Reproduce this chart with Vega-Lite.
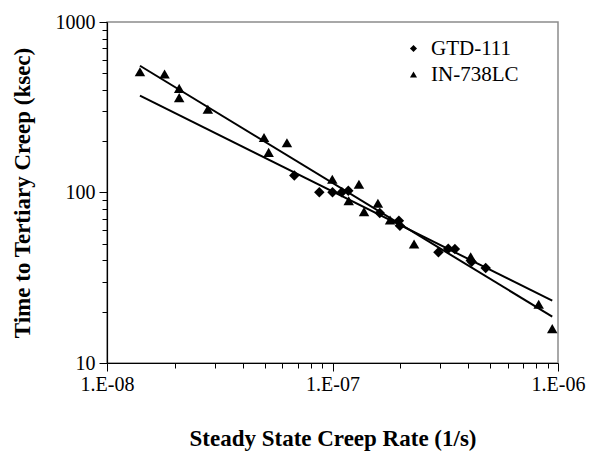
{
  "$schema": "https://vega.github.io/schema/vega-lite/v6.json",
  "autosize": {"type": "none"},
  "padding": {"left": 107, "top": 22, "right": 34, "bottom": 92},
  "width": 451,
  "height": 341,
  "background": "white",
  "config": {
    "view": {"stroke": "#8c8c8c", "strokeWidth": 1.5},
    "font": "Liberation Serif",
    "axis": {
      "grid": false,
      "domainColor": "black",
      "domainWidth": 1.2,
      "tickColor": "black",
      "tickWidth": 1,
      "labelFont": "Liberation Serif",
      "labelFontSize": 20,
      "labelColor": "black",
      "titleFont": "Liberation Serif",
      "titleFontSize": 23,
      "titleFontWeight": "bold",
      "titleColor": "black"
    }
  },
  "datasets": {
    "pts": [
      {"series": "GTD-111", "rate": 6.77e-8, "time": 126},
      {"series": "GTD-111", "rate": 8.74e-8, "time": 100.3},
      {"series": "GTD-111", "rate": 1.0e-7, "time": 100.3},
      {"series": "GTD-111", "rate": 1.10e-7, "time": 100.3},
      {"series": "GTD-111", "rate": 1.175e-7, "time": 102.5},
      {"series": "GTD-111", "rate": 1.62e-7, "time": 75.8},
      {"series": "GTD-111", "rate": 1.97e-7, "time": 68.3},
      {"series": "GTD-111", "rate": 1.99e-7, "time": 63.9},
      {"series": "GTD-111", "rate": 2.95e-7, "time": 44.6},
      {"series": "GTD-111", "rate": 3.26e-7, "time": 46.8},
      {"series": "GTD-111", "rate": 3.49e-7, "time": 46.6},
      {"series": "GTD-111", "rate": 4.14e-7, "time": 39.3},
      {"series": "GTD-111", "rate": 4.78e-7, "time": 36.1},
      {"series": "IN-738LC", "rate": 1.40e-8, "time": 511},
      {"series": "IN-738LC", "rate": 1.80e-8, "time": 495},
      {"series": "IN-738LC", "rate": 2.09e-8, "time": 408},
      {"series": "IN-738LC", "rate": 2.09e-8, "time": 360},
      {"series": "IN-738LC", "rate": 2.80e-8, "time": 308},
      {"series": "IN-738LC", "rate": 4.97e-8, "time": 210},
      {"series": "IN-738LC", "rate": 5.21e-8, "time": 172},
      {"series": "IN-738LC", "rate": 6.28e-8, "time": 196},
      {"series": "IN-738LC", "rate": 9.98e-8, "time": 119.5},
      {"series": "IN-738LC", "rate": 1.31e-7, "time": 111.7},
      {"series": "IN-738LC", "rate": 1.18e-7, "time": 89.5},
      {"series": "IN-738LC", "rate": 1.59e-7, "time": 86.4},
      {"series": "IN-738LC", "rate": 1.38e-7, "time": 77.2},
      {"series": "IN-738LC", "rate": 1.80e-7, "time": 69.0},
      {"series": "IN-738LC", "rate": 2.30e-7, "time": 49.9},
      {"series": "IN-738LC", "rate": 4.10e-7, "time": 42.0},
      {"series": "IN-738LC", "rate": 8.21e-7, "time": 22.1},
      {"series": "IN-738LC", "rate": 9.43e-7, "time": 15.9}
    ],
    "fits": [
      {"series": "GTD-111", "rate": 1.40e-8, "time": 369.7},
      {"series": "GTD-111", "rate": 9.43e-7, "time": 23.2},
      {"series": "IN-738LC", "rate": 1.40e-8, "time": 554},
      {"series": "IN-738LC", "rate": 9.43e-7, "time": 18.7}
    ]
  },
  "encoding": {
    "x": {
      "field": "rate",
      "type": "quantitative",
      "scale": {"type": "log", "domain": [1e-8, 1e-6], "nice": false},
      "axis": {
        "title": "Steady State Creep Rate (1/s)",
        "titlePadding": 33,
        "values": [1e-8, 2e-8, 3e-8, 4e-8, 5e-8, 6e-8, 7e-8, 8e-8, 9e-8, 1e-7, 2e-7, 3e-7, 4e-7, 5e-7, 6e-7, 7e-7, 8e-7, 9e-7, 1e-6],
        "labelExpr": "abs(log(datum.value)/LN10 - round(log(datum.value)/LN10)) < 0.001 ? '1.E-0' + round(-log(datum.value)/LN10) : ''",
        "tickSize": {"condition": {"test": "abs(log(datum.value)/LN10 - round(log(datum.value)/LN10)) < 0.001", "value": 8}, "value": 5},
        "labelPadding": 3,
        "labelFlush": false,
        "labelOverlap": false
      }
    },
    "y": {
      "field": "time",
      "type": "quantitative",
      "scale": {"type": "log", "domain": [10, 1000], "nice": false},
      "axis": {
        "title": "Time to Tertiary Creep (ksec)",
        "titlePadding": 21,
        "values": [10, 20, 30, 40, 50, 60, 70, 80, 90, 100, 200, 300, 400, 500, 600, 700, 800, 900, 1000],
        "labelExpr": "(datum.value == 10 || datum.value == 100 || datum.value == 1000) ? datum.value + '' : ''",
        "tickSize": {"condition": {"test": "datum.value == 10 || datum.value == 100 || datum.value == 1000", "value": 8}, "value": 5},
        "labelPadding": 4,
        "labelOverlap": false
      }
    }
  },
  "layer": [
    {
      "data": {"name": "fits"},
      "mark": {"type": "line", "color": "black", "strokeWidth": 2},
      "encoding": {"detail": {"field": "series"}}
    },
    {
      "data": {"name": "pts"},
      "mark": {"type": "point", "filled": true, "color": "black", "opacity": 1, "size": 110},
      "encoding": {
        "shape": {
          "field": "series",
          "type": "nominal",
          "scale": {"domain": ["GTD-111", "IN-738LC"], "range": ["diamond", "triangle-up"]},
          "legend": {
            "title": null,
            "orient": "none",
            "legendX": 296,
            "legendY": 16,
            "labelFont": "Liberation Serif",
            "labelFontSize": 21,
            "labelColor": "black",
            "labelOffset": 7,
            "symbolSize": 50,
            "symbolFillColor": "black",
            "symbolStrokeColor": "black",
            "rowPadding": 4
          }
        }
      }
    }
  ]
}
